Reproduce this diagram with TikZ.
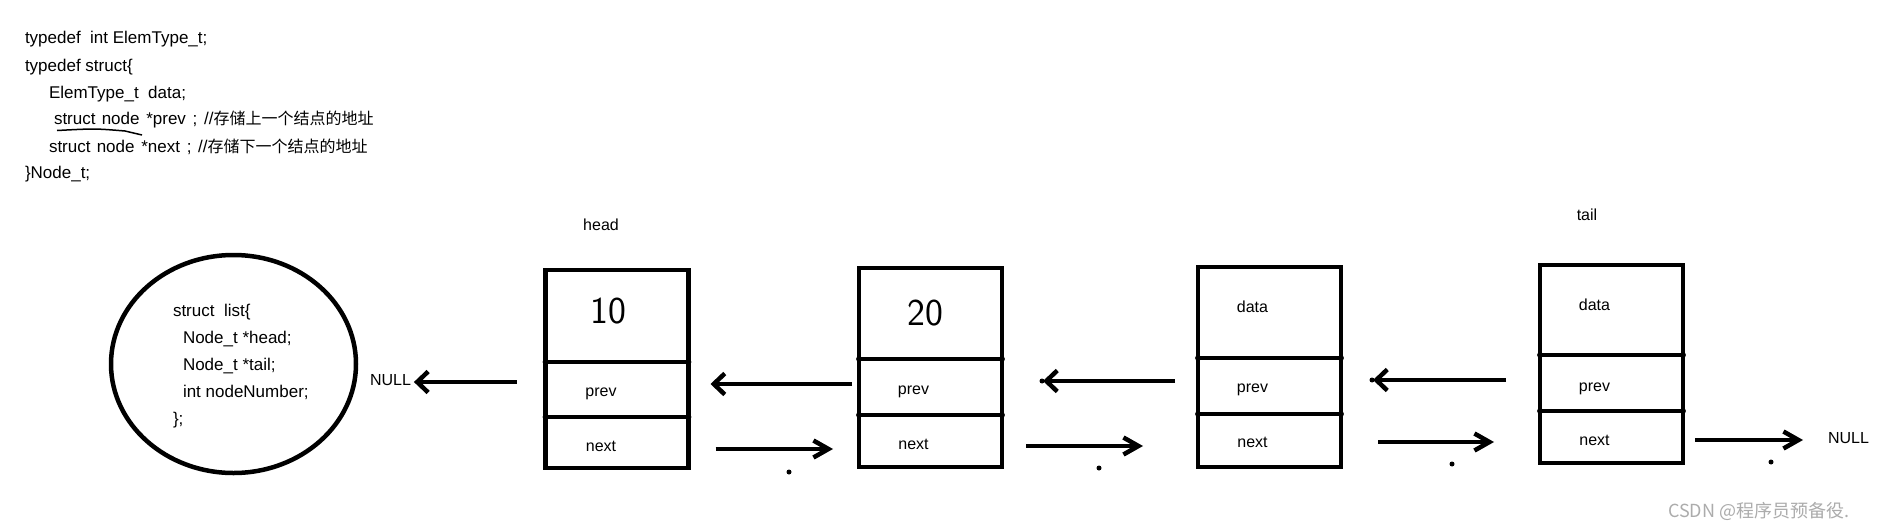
\documentclass[tikz,border=0pt]{standalone}
\usepackage{fontspec}
\setmainfont{Liberation Sans}
\newfontfamily\cjk{Noto Sans CJK SC}
\usetikzlibrary{arrows.meta,shapes.geometric}
\definecolor{wmgray}{RGB}{172,172,172}
\begin{document}
\begin{tikzpicture}[x=1pt,y=-1pt,
  txt/.style={font=\fontsize{16pt}{19pt}\selectfont, inner sep=0pt, outer sep=0pt},
  code/.style={font=\fontsize{17pt}{20pt}\selectfont, inner sep=0pt, outer sep=0pt, anchor=base west},
  lbl/.style={txt, anchor=base},
  digit/.style={font=\sffamily\fontsize{38pt}{40pt}\selectfont, inner sep=0pt},
  cell/.style={draw, line width=4.5pt, minimum width=143pt, inner sep=0pt, outer sep=0pt},
  link/.style={line width=4.5pt},
  larr/.style={link, -{Straight Barb[length=11pt,width=21pt,line width=4.5pt]}},
  rarr/.style={link, -{Straight Barb[length=15pt,width=17pt,line width=4.5pt]}},
  speck/.style={fill=black}
]
\useasboundingbox (0,0) rectangle (1889,530);
\fill[white] (0,0) rectangle (1889,530);

% ---- code at top ----
\node[code] (c1) at (25,43) {typedef\ \ int ElemType\_t;};
\node[code] (c2) at (25,71) {typedef struct\{};
\node[code] (c3) at (49,98) {ElemType\_t\ \ data;};
\node[code] (c4) at (54,124) {struct\hspace{1.5pt} node\hspace{2pt} *prev\hspace{2pt} ;\hspace{2pt} //{\cjk\fontsize{16pt}{19pt}\selectfont 存储上一个结点的地址}};
\node[code] (c5) at (49,152) {struct\hspace{1.5pt} node\hspace{2pt} *next\hspace{2pt} ;\hspace{2pt} //{\cjk\fontsize{16pt}{19pt}\selectfont 存储下一个结点的地址}};
\node[code] (c6) at (25,178) {\}Node\_t;};
\draw[line width=1.5pt] (57,130.5) .. controls (95,128.5) .. (125,131) -- (142,135);

% ---- list struct ellipse ----
\node[draw, ellipse, line width=4.5pt, minimum width=245pt, minimum height=218pt, inner sep=0pt] (lst) at (233.5,364) {};
\node[code] (l1) at (173,316) {struct\ \ list\{};
\node[code] (l2) at (183,343) {Node\_t *head;};
\node[code] (l3) at (183,370) {Node\_t *tail;};
\node[code] (l4) at (183,397) {int nodeNumber;};
\node[code] (l5) at (173,424) {\};};

\node[txt, anchor=base west] (nullL) at (370,385) {NULL};

% ---- labels head / tail ----
\node[txt] (headlbl) at (601,225) {head};
\node[txt] (taillbl) at (1587,215) {tail};

% ---- box 1 ----
\node[cell, minimum height=92pt] (b1d) at (617,316) {};
\node[cell, minimum height=55pt] (b1p) at (617,389.5) {};
\node[cell, minimum height=51pt] (b1n) at (617,442.5) {};
\node[digit] (b1v) at ([xshift=-9pt,yshift=5pt]b1d.center) {10};
\node[lbl] (b1pt) at ([xshift=-16pt,yshift=-6.5pt]b1p.center) {prev};
\node[lbl] (b1nt) at ([xshift=-16pt,yshift=-8.5pt]b1n.center) {next};

% ---- box 2 ----
\node[cell, minimum height=91pt] (b2d) at (930.5,313.5) {};
\node[cell, minimum height=56pt] (b2p) at (930.5,387) {};
\node[cell, minimum height=52pt] (b2n) at (930.5,441) {};
\node[digit] (b2v) at ([xshift=-5pt]b2d.center) {20};
\node[lbl] (b2pt) at ([xshift=-17pt,yshift=-7pt]b2p.center) {prev};
\node[lbl] (b2nt) at ([xshift=-17pt,yshift=-8pt]b2n.center) {next};

% ---- box 3 ----
\node[cell, minimum height=91pt] (b3d) at (1269.5,312.5) {};
\node[cell, minimum height=56pt] (b3p) at (1269.5,386) {};
\node[cell, minimum height=53pt] (b3n) at (1269.5,440.5) {};
\node[lbl] (b3dt) at ([xshift=-17pt]b3d.center) {data};
\node[lbl] (b3pt) at ([xshift=-17pt,yshift=-6pt]b3p.center) {prev};
\node[lbl] (b3nt) at ([xshift=-17pt,yshift=-6.5pt]b3n.center) {next};

% ---- box 4 (tail) ----
\node[cell, minimum height=90pt] (b4d) at (1611.5,310) {};
\node[cell, minimum height=56pt] (b4p) at (1611.5,383) {};
\node[cell, minimum height=52pt] (b4n) at (1611.5,437) {};
\node[lbl] (b4dt) at ([xshift=-17pt]b4d.center) {data};
\node[lbl] (b4pt) at ([xshift=-17pt,yshift=-8pt]b4p.center) {prev};
\node[lbl] (b4nt) at ([xshift=-17pt,yshift=-8pt]b4n.center) {next};

% divider end blobs
\foreach \b in {b1,b2,b3,b4}{
  \foreach \c in {p,n}{
    \fill (\b\c.north west) circle (2.9pt);
    \fill (\b\c.north east) circle (2.9pt);
  }
}

\node[txt, anchor=base west] (nullR) at (1828,443) {NULL};

% ---- connectors ----
\draw[larr] ([xshift=-29pt]b1p.west |- 0,382) -- ([xshift=3pt]nullL.east |- 0,382);
\draw[larr] ([xshift=-7pt]b2p.west |- 0,384) -- ([xshift=22pt]b1p.east |- 0,384);
\draw[rarr] ([xshift=27pt]b1n.east |- 0,449) -- ([xshift=-26pt]b2n.west |- 0,449);
\draw[larr] ([xshift=-23pt]b3p.west |- 0,381) -- ([xshift=41pt]b2p.east |- 0,381);
\draw[rarr] ([xshift=24pt]b2n.east |- 0,446) -- ([xshift=-55pt]b3n.west |- 0,446);
\draw[larr] ([xshift=-34pt]b4p.west |- 0,380) -- ([xshift=32pt]b3p.east |- 0,380);
\draw[rarr] ([xshift=37pt]b3n.east |- 0,442) -- ([xshift=-46pt]b4n.west |- 0,442);
\draw[rarr] ([xshift=12pt]b4n.east |- 0,440) -- ([xshift=-25pt]nullR.west |- 0,440);

% ---- stray specks ----
\fill[speck] (789,472) circle (2.5pt);
\fill[speck] (1099,468) circle (2.5pt);
\fill[speck] (1452,464) circle (2.5pt);
\fill[speck] (1771,462) circle (2.5pt);
\fill[speck] (1042,381) circle (2.5pt);
\fill[speck] (1372,380) circle (2.5pt);

% ---- watermark ----
\node[anchor=base west, inner sep=0pt, font=\cjk\fontsize{18pt}{21pt}\selectfont, text=wmgray] (wm) at (1668,517) {CSDN @程序员预备役.};
\end{tikzpicture}
\end{document}
